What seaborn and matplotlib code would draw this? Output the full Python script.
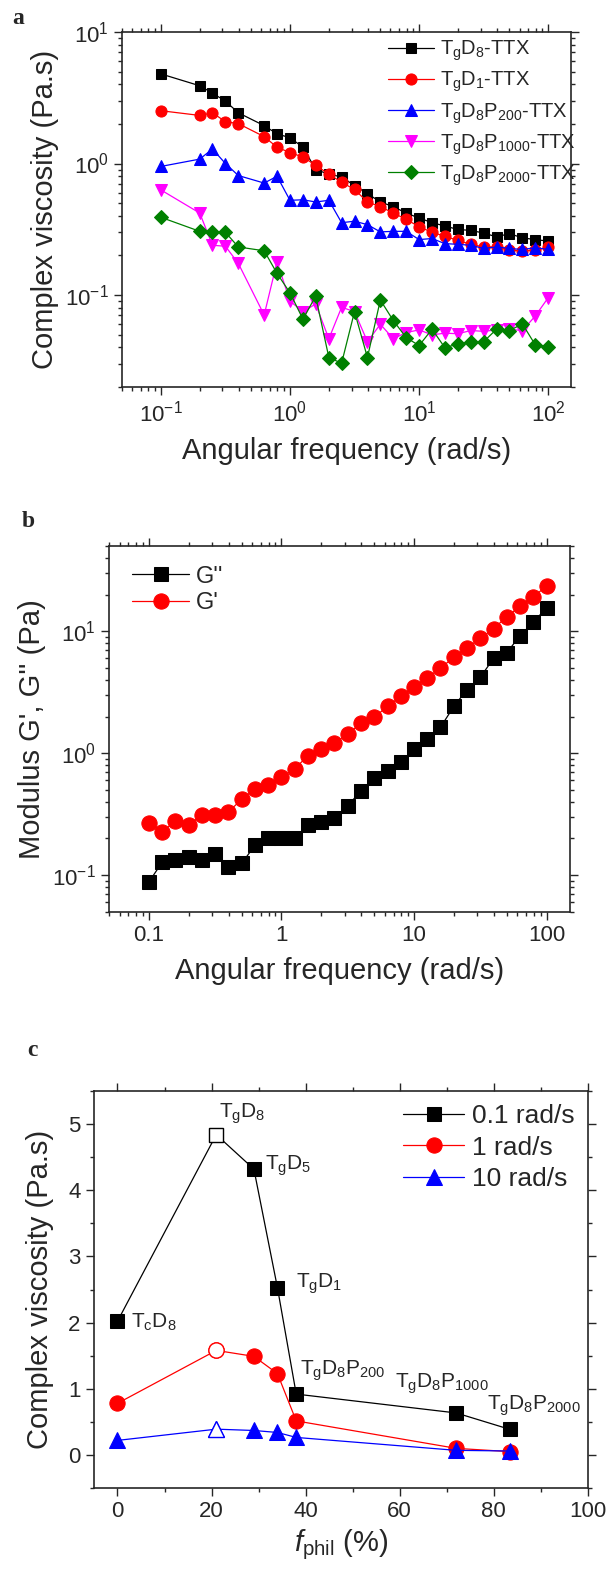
import matplotlib
matplotlib.use("Agg")
import matplotlib.pyplot as plt
import matplotlib.ticker as mticker
import numpy as np
import pandas as pd
import seaborn as sns

sns.set_style("ticks")
plt.rcParams['font.family'] = ['Liberation Sans', 'DejaVu Sans']
plt.rcParams['mathtext.fontset'] = 'custom'
plt.rcParams['mathtext.rm'] = 'Liberation Sans'
plt.rcParams['mathtext.it'] = 'Liberation Sans:italic'
plt.rcParams['mathtext.default'] = 'regular'
plt.rcParams['axes.linewidth'] = 1.2

# ---- panel a: complex viscosity vs frequency ----
freq_a = [0.1, 0.2, 0.251, 0.316, 0.398, 0.631, 0.794, 1.0, 1.26, 1.58, 2.0, 2.51, 3.16, 3.98,
          5.01, 6.31, 7.94, 10.0, 12.6, 15.8, 20.0, 25.1, 31.6, 39.8, 50.1, 63.1, 79.4, 100.0]
visc_tgd8 = [4.8, 3.9, 3.43, 2.98, 2.43, 1.94, 1.68, 1.57, 1.33, 0.90, 0.83, 0.79, 0.68, 0.59,
             0.51, 0.47, 0.42, 0.385, 0.355, 0.335, 0.315, 0.31, 0.296, 0.277, 0.293, 0.272, 0.264, 0.257]
visc_tgd1 = [2.52, 2.32, 2.43, 2.08, 2.01, 1.60, 1.33, 1.21, 1.12, 0.97, 0.83, 0.72, 0.635, 0.51,
             0.47, 0.42, 0.377, 0.33, 0.30, 0.28, 0.26, 0.243, 0.232, 0.232, 0.219, 0.217, 0.219, 0.232]
visc_p200 = [0.95, 1.08, 1.29, 1.0, 0.81, 0.71, 0.80, 0.525, 0.53, 0.51, 0.525, 0.355, 0.364, 0.343,
             0.302, 0.305, 0.305, 0.264, 0.269, 0.246, 0.243, 0.239, 0.226, 0.232, 0.226, 0.222, 0.229, 0.222]
visc_p1000 = [0.63, 0.42, 0.239, 0.235, 0.174, 0.0705, 0.179, 0.09, 0.0748, 0.0855, 0.0465, 0.0807, 0.0748, 0.0442,
              0.06, 0.0465, 0.0519, 0.0543, 0.0498, 0.0513, 0.0508, 0.0537, 0.053, 0.0543, 0.055, 0.0537, 0.0693, 0.0955]
visc_p2000 = [0.39, 0.305, 0.30, 0.30, 0.232, 0.217, 0.146, 0.104, 0.0655, 0.098, 0.0335, 0.0303, 0.0748, 0.0335,
              0.0917, 0.064, 0.0475, 0.0413, 0.055, 0.0399, 0.0423, 0.0442, 0.0442, 0.055, 0.0537, 0.0603, 0.0418, 0.0406]
labels_a = ['T$_g$D$_8$-TTX', 'T$_g$D$_1$-TTX', 'T$_g$D$_8$P$_{200}$-TTX',
            'T$_g$D$_8$P$_{1000}$-TTX', 'T$_g$D$_8$P$_{2000}$-TTX']

# ---- panel b: moduli ----
freq_b = [0.1, 0.126, 0.158, 0.2, 0.251, 0.316, 0.398, 0.501, 0.631, 0.794, 1.0, 1.26, 1.58, 2.0, 2.51,
          3.16, 3.98, 5.01, 6.31, 7.94, 10.0, 12.6, 15.8, 20.0, 25.1, 31.6, 39.8, 50.1, 63.1, 79.4, 100.0]
g_loss = [0.088, 0.128, 0.133, 0.14, 0.133, 0.148, 0.117, 0.125, 0.176, 0.20, 0.20, 0.20, 0.26, 0.274, 0.295,
          0.37, 0.494, 0.628, 0.72, 0.84, 1.09, 1.31, 1.63, 2.43, 3.33, 4.2, 6.0, 6.7, 9.2, 11.9, 15.6]
g_store = [0.27, 0.226, 0.279, 0.26, 0.31, 0.314, 0.33, 0.42, 0.51, 0.55, 0.64, 0.745, 0.957, 1.09, 1.21,
           1.44, 1.76, 1.97, 2.43, 2.92, 3.48, 4.15, 5.0, 6.12, 7.3, 8.77, 10.5, 13.2, 16.0, 19.2, 23.5]

# ---- panel c: viscosity vs f_phil ----
f_phil = [0, 21, 29, 34, 38, 72, 83.5]
visc_01 = [2.02, 4.84, 4.32, 2.53, 0.92, 0.635, 0.385]
visc_1 = [0.78, 1.58, 1.49, 1.23, 0.515, 0.10, 0.05]
visc_10 = [0.22, 0.39, 0.37, 0.34, 0.265, 0.07, 0.06]
open_point = 1  # TgD8 drawn as open symbol
sample_names = ['T$_c$D$_8$', 'T$_g$D$_8$', 'T$_g$D$_5$', 'T$_g$D$_1$',
                'T$_g$D$_8$P$_{200}$', 'T$_g$D$_8$P$_{1000}$', 'T$_g$D$_8$P$_{2000}$']
name_x = [2.8, 21.6, 31.3, 38.0, 38.7, 59.0, 78.5]
name_y = [2.0, 5.16, 4.37, 2.59, 1.28, 1.08, 0.75]

TICK_FS = 16
LABEL_FS = 21


def style_axes(ax):
    ax.tick_params(which='both', direction='out', top=True, right=True,
                   labeltop=False, labelright=False, width=1.0, labelsize=TICK_FS)
    ax.tick_params(which='major', length=6)
    ax.tick_params(which='minor', length=3)
    for s in ax.spines.values():
        s.set_visible(True)
        s.set_linewidth(1.2)


def series(ax, x, y, color, marker, ms, label):
    sns.lineplot(x=x, y=y, ax=ax, color=color, marker=marker, markersize=ms,
                 markeredgecolor=color, linewidth=0.9, label=label,
                 estimator=None, sort=False)


fig = plt.figure(figsize=(6.1, 15.75), dpi=100)

# panel a
ax = fig.add_axes([0.200, 0.7543, 0.736, 0.2254])
ax.set_xscale('log')
ax.set_yscale('log')
colors_a = ['black', 'red', 'blue', 'magenta', 'green']
markers_a = ['s', 'o', '^', 'v', 'D']
sizes_a = [7, 8, 8, 8, 7]
for vals, c, m, s, lab in zip([visc_tgd8, visc_tgd1, visc_p200, visc_p1000, visc_p2000],
                              colors_a, markers_a, sizes_a, labels_a):
    series(ax, freq_a, vals, c, m, s, lab)
ax.set_xlim(0.05, 150)
ax.set_ylim(0.02, 10)
style_axes(ax)
ax.set_xlabel('Angular frequency (rad/s)', fontsize=LABEL_FS, labelpad=8)
ax.set_ylabel('Complex viscosity (Pa.s)', fontsize=LABEL_FS, labelpad=4)
ax.legend(loc='upper left', bbox_to_anchor=(0.565, 1.015), frameon=False, fontsize=14.5,
          handlelength=2.3, handletextpad=0.3, labelspacing=0.33, borderaxespad=0.2)
fig.text(0.02, 0.988, 'a', fontsize=17, fontweight='bold', family='Liberation Serif', va='center')

# panel b
ax = fig.add_axes([0.1787, 0.4210, 0.7557, 0.2323])
ax.set_xscale('log')
ax.set_yscale('log')
series(ax, freq_b, g_loss, 'black', 's', 10, "G''")
series(ax, freq_b, g_store, 'red', 'o', 11, "G'")
ax.set_xlim(0.05, 150)
ax.set_ylim(0.05, 50)
ax.xaxis.set_major_formatter(mticker.FuncFormatter(lambda v, p: f'{v:g}'))
style_axes(ax)
ax.set_xlabel('Angular frequency (rad/s)', fontsize=LABEL_FS, labelpad=8)
ax.set_ylabel("Modulus G', G'' (Pa)", fontsize=LABEL_FS, labelpad=4)
ax.legend(loc='upper left', bbox_to_anchor=(0.02, 0.985), frameon=False, fontsize=17,
          handlelength=2.4, handletextpad=0.3, labelspacing=0.2, borderaxespad=0.2)
fig.text(0.035, 0.669, 'b', fontsize=17, fontweight='bold', family='Liberation Serif', va='center')

# panel c
ax = fig.add_axes([0.154, 0.0552, 0.8098, 0.2521])
colors_c = ['black', 'red', 'blue']
markers_c = ['s', 'o', '^']
labels_c = ['0.1 rad/s', '1 rad/s', '10 rad/s']
sizes_c = [10, 11, 11]
for vals, c, m, s, lab in zip([visc_01, visc_1, visc_10], colors_c, markers_c, sizes_c, labels_c):
    series(ax, f_phil, vals, c, m, s, lab)
    ax.plot(f_phil[open_point], vals[open_point], marker=m, markersize=s,
            markerfacecolor='white', markeredgecolor=c, markeredgewidth=1.0, linestyle='none')
for name, x, y in zip(sample_names, name_x, name_y):
    ax.text(x, y, name, fontsize=15, ha='left', va='center')
ax.set_xlim(-5, 100)
ax.set_ylim(-0.5, 5.5)
ax.xaxis.set_major_locator(mticker.MultipleLocator(20))
ax.xaxis.set_minor_locator(mticker.MultipleLocator(10))
ax.yaxis.set_major_locator(mticker.MultipleLocator(1))
ax.yaxis.set_minor_locator(mticker.MultipleLocator(0.5))
style_axes(ax)
ax.set_xlabel('$\\mathit{f}_{phil}$ (%)', fontsize=LABEL_FS, labelpad=4)
ax.set_ylabel('Complex viscosity (Pa.s)', fontsize=LABEL_FS, labelpad=10)
ax.legend(loc='upper right', bbox_to_anchor=(1.0, 1.0), frameon=False, fontsize=19,
          handlelength=2.3, handletextpad=0.3, labelspacing=0.28, borderaxespad=0.1)
fig.text(0.044, 0.3333, 'c', fontsize=17, fontweight='bold', family='Liberation Serif', va='center')

fig.savefig('out.png', dpi=100)
